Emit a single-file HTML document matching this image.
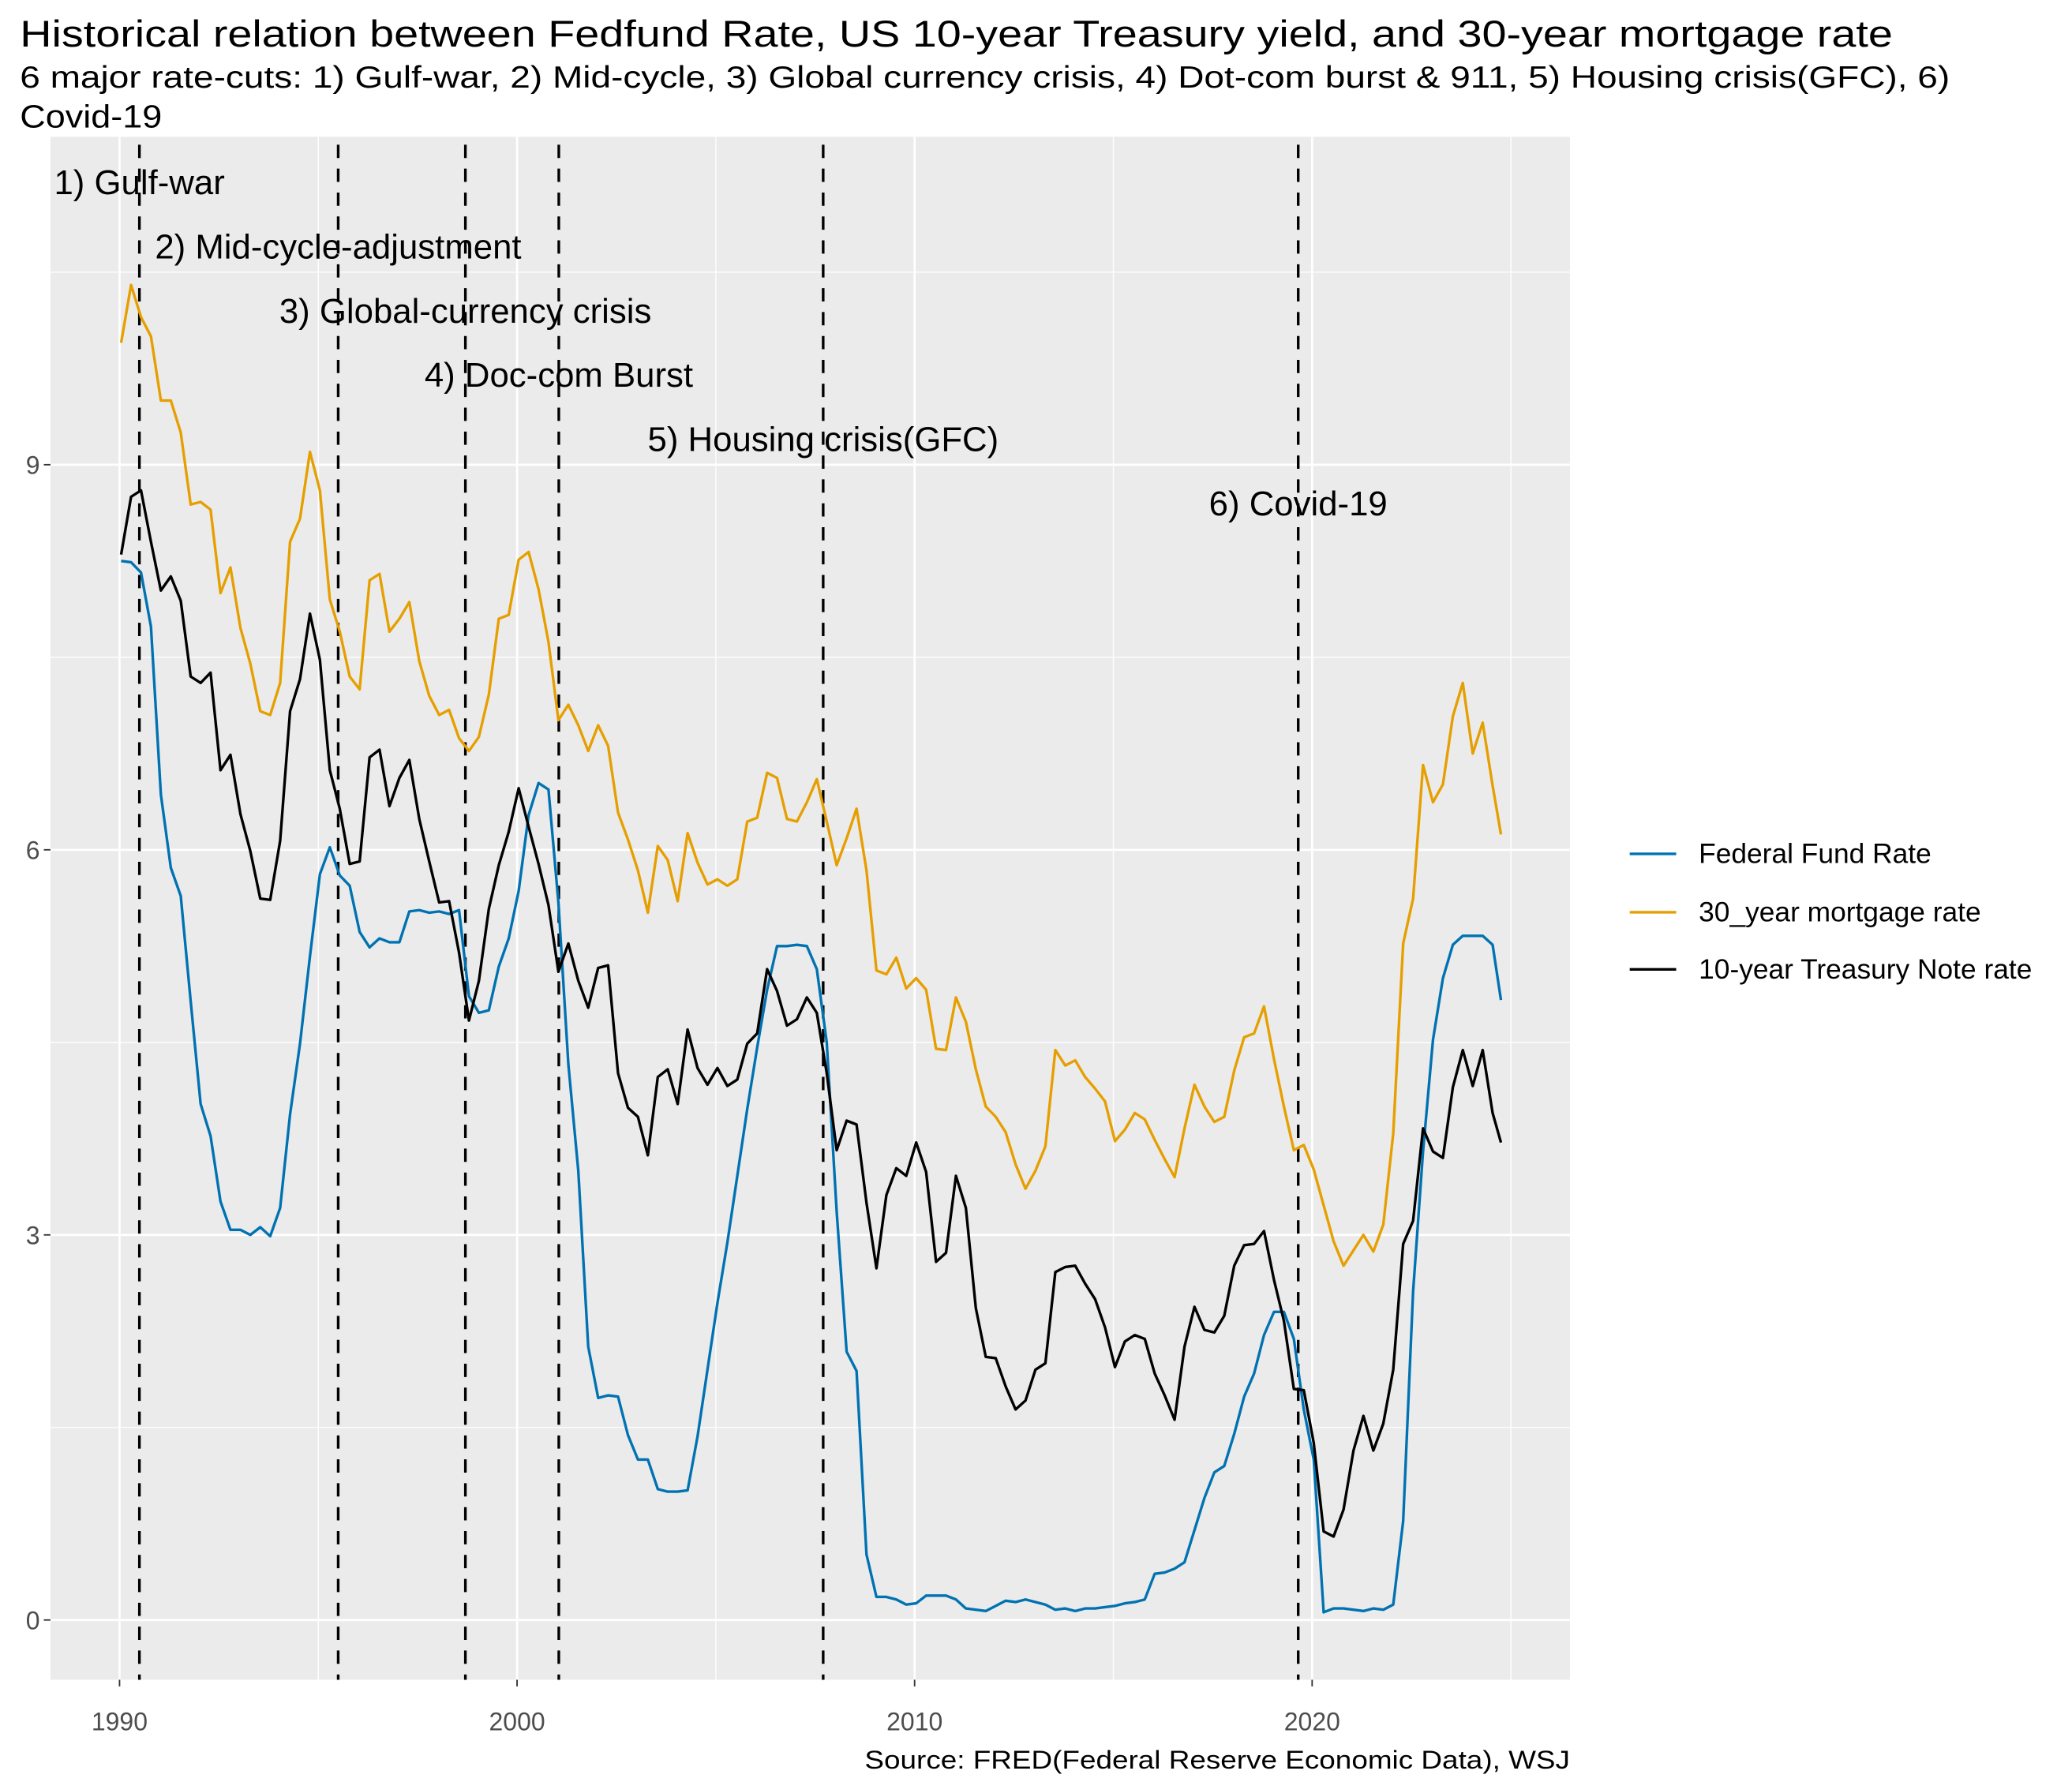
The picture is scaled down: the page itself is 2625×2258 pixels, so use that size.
<!DOCTYPE html>
<html><head><meta charset="utf-8"><style>html,body{margin:0;padding:0;background:#fff}svg{display:block}text{font-family:"Liberation Sans",Arial,sans-serif}</style></head>
<body>
<svg id="chart" width="2625" height="2258" viewBox="0 0 1560 1342" preserveAspectRatio="none" xmlns="http://www.w3.org/2000/svg">
<text x="15" y="35" font-size="28" textLength="1410" lengthAdjust="spacingAndGlyphs">Historical relation between Fedfund Rate, US 10-year Treasury yield, and 30-year mortgage rate</text>
<text x="15" y="66" font-size="23" textLength="1453" lengthAdjust="spacingAndGlyphs">6 major rate-cuts: 1) Gulf-war, 2) Mid-cycle, 3) Global currency crisis, 4) Dot-com burst &amp; 911, 5) Housing crisis(GFC), 6)</text>
<text x="15" y="96" font-size="24" textLength="107" lengthAdjust="spacingAndGlyphs">Covid-19</text>
<rect x="38" y="103" width="1144" height="1162" fill="#ebebeb"/>
<g id="grid"></g><g id="vlines"></g><g id="series"></g><g id="annots"></g><g id="axes"></g>
<g>
<line x1="1227" y1="643" x2="1262" y2="643" stroke="#0072B2" stroke-width="2"/>
<text x="1279" y="650" font-size="21">Federal Fund Rate</text>
<line x1="1227" y1="687" x2="1262" y2="687" stroke="#E69F00" stroke-width="2"/>
<text x="1279" y="694" font-size="21">30_year mortgage rate</text>
<line x1="1227" y1="730" x2="1262" y2="730" stroke="#000" stroke-width="2"/>
<text x="1279" y="737" font-size="21">10-year Treasury Note rate</text>
</g>
<text x="1182" y="1332" font-size="19" text-anchor="end" textLength="531" lengthAdjust="spacingAndGlyphs">Source: FRED(Federal Reserve Economic Data), WSJ</text>
</svg>
<script>
const startYear = 1990.04;
const fedFund = [8.25,8.24,8.16,7.74, 6.43,5.86,5.64,4.82, 4.02,3.77,3.26,3.04, 3.04,3.00,3.06,2.99, 3.21,3.94,4.49,5.17, 5.81,6.02,5.80,5.72, 5.36,5.24,5.31,5.28, 5.28,5.52,5.53,5.51, 5.52,5.50,5.53,4.86, 4.73,4.75,5.09,5.31, 5.68,6.27,6.52,6.47, 5.59,4.33,3.50,2.13, 1.73,1.75,1.74,1.44, 1.25,1.25,1.02,1.00, 1.00,1.01,1.43,1.95, 2.47,2.94,3.46,3.98, 4.46,4.91,5.25,5.25, 5.26,5.25,5.07,4.50, 3.18,2.09,1.94,0.51, 0.18,0.18,0.16,0.12, 0.13,0.19,0.19,0.19, 0.16,0.09,0.08,0.07, 0.11,0.15,0.14,0.16, 0.14,0.12,0.08,0.09, 0.07,0.09,0.09,0.10, 0.11,0.13,0.14,0.16, 0.36,0.37,0.40,0.45, 0.70,0.95,1.15,1.20, 1.45,1.74,1.92,2.22, 2.40,2.40,2.19,1.64, 1.25,0.06,0.09,0.09, 0.08,0.07,0.09,0.08, 0.12,0.77,2.56,3.65, 4.52,5.00,5.26,5.33, 5.33,5.33,5.26,4.83];
const treasury10 = [8.30,8.75,8.80,8.40, 8.02,8.13,7.94,7.35, 7.30,7.38,6.62,6.74, 6.28,5.99,5.62,5.61, 6.07,7.08,7.33,7.84, 7.48,6.62,6.32,5.89, 5.91,6.72,6.78,6.34, 6.56,6.70,6.24,5.91, 5.59,5.60,5.20,4.67, 4.98,5.54,5.88,6.14, 6.48,6.18,5.89,5.57, 5.05,5.27,4.98,4.77, 5.08,5.10,4.26,3.99, 3.92,3.62,4.23,4.29, 4.02,4.60,4.30,4.17, 4.30,4.16,4.21,4.49, 4.57,5.07,4.90,4.63, 4.68,4.85,4.73,4.26, 3.66,3.89,3.86,3.25, 2.74,3.31,3.52,3.46, 3.72,3.49,2.79,2.86, 3.46,3.21,2.43,2.05, 2.04,1.82,1.64,1.71, 1.95,2.00,2.71,2.75, 2.76,2.62,2.50,2.28, 1.97,2.17,2.22,2.19, 1.92,1.75,1.56,2.13, 2.44,2.26,2.24,2.37, 2.76,2.92,2.93,3.03, 2.65,2.33,1.80,1.79, 1.38,0.69,0.65,0.86, 1.32,1.59,1.32,1.53, 1.95,2.93,3.11,3.83, 3.65,3.60,4.15,4.44, 4.16,4.44,3.95,3.72];
const mortgage30 = [9.95,10.40,10.15,10.0, 9.50,9.50,9.25,8.69, 8.71,8.65,8.00,8.20, 7.73,7.45,7.08,7.05, 7.30,8.40,8.58,9.10, 8.80,7.95,7.70,7.35, 7.25,8.10,8.15,7.70, 7.80,7.93,7.47,7.20, 7.05,7.09,6.87,6.77, 6.88,7.21,7.80,7.83, 8.26,8.32,8.03,7.62, 7.01,7.13,6.97,6.77, 6.97,6.81,6.29,6.08, 5.84,5.51,6.03,5.92, 5.60,6.13,5.90,5.73, 5.77,5.72,5.77,6.22, 6.25,6.60,6.56,6.24, 6.22,6.37,6.55,6.22, 5.88,6.09,6.32,5.84, 5.06,5.03,5.16,4.92, 5.00,4.91,4.45,4.44, 4.85,4.66,4.29,4.00, 3.92,3.80,3.55,3.36, 3.50,3.69,4.44,4.32, 4.36,4.23,4.14,4.04, 3.73,3.82,3.95,3.90, 3.74,3.59,3.45,3.83, 4.17,4.00,3.88,3.92, 4.28,4.54,4.57,4.78, 4.37,4.00,3.66,3.70, 3.51,3.23,2.95,2.76, 2.88,3.00,2.87,3.08, 3.79,5.27,5.62,6.66, 6.37,6.51,7.04,7.30, 6.75,6.99,6.50,6.12];
const cutDates = [1990.5, 1995.5, 1998.7, 2001.05, 2007.7, 2019.65];
const cutLabels = ["1) Gulf-war","2) Mid-cycle-adjustment","3) Global-currency crisis","4) Doc-com Burst","5) Housing crisis(GFC)","6) Covid-19"];
const cutLabelY = [11.2, 10.7, 10.2, 9.7, 9.2, 8.7];
const xTicks = [1990, 2000, 2010, 2020];
const xMinor = [1995, 2005, 2015, 2025];
const yTicks = [0, 3, 6, 9];
const yMinor = [1.5, 4.5, 7.5, 10.5];

const NS = "http://www.w3.org/2000/svg";
const X0 = 38, X1 = 1182, Y0 = 103, Y1 = 1265;
function xs(y){ return 90 + (y - 1990) * 29.93; }
function ys(v){ return 1220 - v * 96.67; }
function mk(tag, attrs, parent){ const e = document.createElementNS(NS, tag); for (const k in attrs) e.setAttribute(k, attrs[k]); parent.appendChild(e); return e; }
const grid = document.getElementById('grid');
xMinor.forEach(t => { const l = mk('line', {x1: xs(t), x2: xs(t), y1: Y0, y2: Y1, stroke: '#fff', 'stroke-width': 0.8}, grid);
  
   });
yMinor.forEach(t => { const l = mk('line', {x1: X0, x2: X1, y1: ys(t), y2: ys(t), stroke: '#fff', 'stroke-width': 0.8}, grid);
  
   });
xTicks.forEach(t => { const l = mk('line', {x1: xs(t), x2: xs(t), y1: Y0, y2: Y1, stroke: '#fff', 'stroke-width': 1.6}, grid);
  
   });
yTicks.forEach(t => { const l = mk('line', {x1: X0, x2: X1, y1: ys(t), y2: ys(t), stroke: '#fff', 'stroke-width': 1.6}, grid);
  
   });
const vl = document.getElementById('vlines');
cutDates.forEach(d => { const l = mk('line', {x1: xs(d), x2: xs(d), y1: Y0, y2: Y1, stroke: '#000', 'stroke-width': 2, 'stroke-dasharray': '10 8', 'stroke-dashoffset': '-6'}, vl);
  
   });
const ser = document.getElementById('series');
function path(vals, color, name){
  let d = '';
  vals.forEach((v, i) => { const x = (i === vals.length - 1) ? 2024.75 : startYear + i * 0.25; d += (i ? 'L' : 'M') + xs(x).toFixed(2) + ',' + ys(v).toFixed(2); });
  const p = mk('path', {d: d, fill: 'none', stroke: color, 'stroke-width': 2, 'stroke-linejoin': 'round'}, ser);
  
  
}
path(fedFund, '#0072B2', 'fed-fund-line');
path(mortgage30, '#E69F00', 'mortgage-line');
path(treasury10, '#000000', 'treasury-line');
const an = document.getElementById('annots');
cutLabels.forEach((s, i) => { const t = mk('text', {x: xs(cutDates[i]), y: ys(cutLabelY[i]) + 9, 'font-size': 26, 'text-anchor': 'middle'}, an); t.textContent = s;
  
   });
const ax = document.getElementById('axes');
xTicks.forEach(t => { mk('line', {x1: xs(t), x2: xs(t), y1: Y1, y2: Y1 + 5, stroke: '#333', 'stroke-width': 1.1}, ax);
  const tx = mk('text', {x: xs(t), y: 1303, 'font-size': 19, fill: '#4d4d4d', 'text-anchor': 'middle'}, ax); tx.textContent = t;
  
   });
yTicks.forEach(t => { mk('line', {x1: X0 - 5, x2: X0, y1: ys(t), y2: ys(t), stroke: '#333', 'stroke-width': 1.1}, ax);
  const tx = mk('text', {x: X0 - 8, y: ys(t) + 7, 'font-size': 19, fill: '#4d4d4d', 'text-anchor': 'end'}, ax); tx.textContent = t;
  
   });
</script>
</body></html>
